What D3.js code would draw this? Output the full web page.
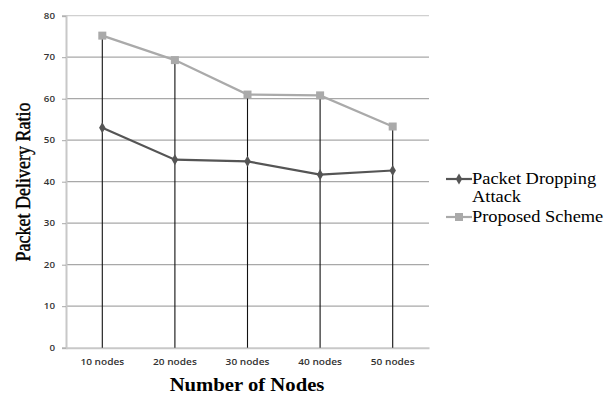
<!DOCTYPE html>
<html>
<head>
<meta charset="utf-8">
<script src="https://cdn.jsdelivr.net/npm/d3@7"></script>
<style>
  html, body { margin: 0; padding: 0; background: #fff; }
  svg { display: block; }
</style>
</head>
<body>
<svg id="chart" width="614" height="394"></svg>
<script>
// Packet delivery ratio versus network size
const categories = ["10 nodes", "20 nodes", "30 nodes", "40 nodes", "50 nodes"];
const droppingAttack = [53.0, 45.3, 44.9, 41.7, 42.7];
const proposedScheme = [75.2, 69.3, 61.0, 60.8, 53.3];
const yTicks = [0, 10, 20, 30, 40, 50, 60, 70, 80];
const seriesNames = ["Packet Dropping Attack", "Proposed Scheme"];

const svg = d3.select("#chart");
const plot = { left: 66, right: 429, top: 15.7, bottom: 347.7 };
const stretch = 1.15;           // horizontally widened lettering
const serif = "Liberation Serif, Times New Roman, serif";
const sans = "Open Sans, sans-serif";

const x = d3.scaleBand().domain(categories).range([plot.left, plot.right]);
const y = d3.scaleLinear().domain([0, 80]).range([plot.bottom, plot.top]);
const cx = c => x(c) + x.bandwidth() / 2;

// horizontal gridlines
svg.append("g").selectAll("line").data(yTicks.filter(t => t > 0)).join("line")
  .attr("x1", plot.left).attr("x2", plot.right)
  .attr("y1", d => y(d)).attr("y2", d => y(d))
  .attr("stroke", d => d === 80 ? "#d0d0d0" : "#a8a8a8")
  .attr("stroke-width", 1.2);

// y axis with tick marks and labels
const yAxis = d3.axisLeft(y).tickValues(yTicks).tickSize(4).tickPadding(7);
const gy = svg.append("g").attr("transform", `translate(${plot.left},0)`).call(yAxis);
gy.select(".domain").attr("stroke", "#c8c8c8").attr("stroke-width", 2);
gy.selectAll(".tick line").attr("stroke", "#a8a8a8");
gy.selectAll(".tick text")
  .attr("x", -11 / stretch)
  .attr("transform", `scale(${stretch},1)`)
  .attr("font-family", sans).attr("font-size", 8.5)
  .attr("font-weight", 600).attr("fill", "#333");

// x axis baseline and category labels
const xAxis = d3.axisBottom(x).tickSize(0).tickPadding(11);
const gx = svg.append("g").attr("transform", `translate(0,${plot.bottom})`).call(xAxis);
gx.select(".domain").attr("stroke", "#c8c8c8").attr("stroke-width", 2);
gx.selectAll(".tick text")
  .attr("transform", `scale(${stretch},1)`)
  .attr("font-family", sans).attr("font-size", 8.8)
  .attr("font-weight", 600).attr("fill", "#333");

// drop lines from the upper series down to the axis
svg.append("g").selectAll("line").data(categories).join("line")
  .attr("x1", d => cx(d)).attr("x2", d => cx(d))
  .attr("y1", (d, i) => y(proposedScheme[i])).attr("y2", plot.bottom)
  .attr("stroke", "#111").attr("stroke-width", 1.1);

const line = d3.line().x((d, i) => cx(categories[i])).y(d => y(d));

// Proposed Scheme series
svg.append("path").datum(proposedScheme).attr("d", line)
  .attr("fill", "none").attr("stroke", "#aaaaaa").attr("stroke-width", 2.2);
svg.append("g").selectAll("rect").data(proposedScheme).join("rect")
  .attr("x", (d, i) => cx(categories[i]) - 4).attr("y", d => y(d) - 4)
  .attr("width", 8).attr("height", 8).attr("fill", "#aaaaaa");

// Packet Dropping Attack series
svg.append("path").datum(droppingAttack).attr("d", line)
  .attr("fill", "none").attr("stroke", "#555555").attr("stroke-width", 2.2);
const diamond = d3.symbol().type(d3.symbolDiamond).size(36);
svg.append("g").selectAll("path").data(droppingAttack).join("path")
  .attr("d", diamond)
  .attr("transform", (d, i) => `translate(${cx(categories[i])},${y(d)})`)
  .attr("fill", "#555555");

// axis titles
svg.append("text")
  .attr("transform", `translate(30,182) scale(${stretch},1) rotate(-90)`)
  .attr("text-anchor", "middle")
  .attr("font-family", serif)
  .attr("font-size", 18).attr("fill", "#000")
  .attr("stroke", "#000").attr("stroke-width", 0.35)
  .text("Packet Delivery Ratio");
svg.append("text")
  .attr("transform", `translate(247,391) scale(${stretch},1)`)
  .attr("text-anchor", "middle")
  .attr("font-family", serif)
  .attr("font-weight", "bold").attr("font-size", 18).attr("fill", "#000")
  .text("Number of Nodes");

// legend
const legend = svg.append("g").attr("font-family", serif)
  .attr("font-size", 16).attr("fill", "#000");
const lg1 = legend.append("g").attr("transform", "translate(446,179)");
lg1.append("line").attr("x1", 0).attr("x2", 26).attr("stroke", "#555").attr("stroke-width", 2.2);
lg1.append("path").attr("d", diamond).attr("transform", "translate(13,0)").attr("fill", "#555");
const t1 = lg1.append("text").attr("transform", `translate(26,5) scale(${stretch},1)`);
t1.append("tspan").attr("x", 0).text(seriesNames[0].split(" ").slice(0, 2).join(" "));
t1.append("tspan").attr("x", 0).attr("dy", 18).text(seriesNames[0].split(" ").slice(2).join(" "));
const lg2 = legend.append("g").attr("transform", "translate(446,217)");
lg2.append("line").attr("x1", 0).attr("x2", 26).attr("stroke", "#aaa").attr("stroke-width", 2.2);
lg2.append("rect").attr("x", 9).attr("y", -4).attr("width", 8).attr("height", 8).attr("fill", "#aaa");
lg2.append("text").attr("transform", `translate(26,5) scale(${stretch},1)`).text(seriesNames[1]);
</script>
</body>
</html>
